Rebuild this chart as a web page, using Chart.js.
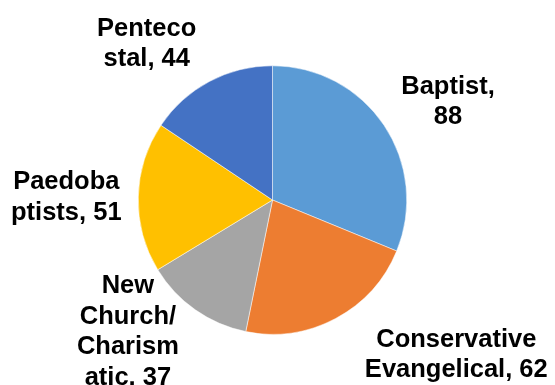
<!DOCTYPE html>
<html>
<head>
<meta charset="utf-8">
<script src="https://cdn.jsdelivr.net/npm/chart.js@4"></script>
<style>
  html, body { margin: 0; padding: 0; background: #fff; }
  #wrap { width: 555px; height: 385px; position: relative; }
</style>
</head>
<body>
<div id="wrap"><canvas id="pie-chart"></canvas></div>
<script>
var categories = ['Baptist', 'Conservative Evangelical', 'New Church/Charismatic', 'Paedobaptists', 'Pentecostal'];
var counts = [88, 62, 37, 51, 44];
var colors = ['#5B9BD5', '#ED7D31', '#A5A5A5', '#FFC000', '#4472C4'];
// how each label wraps, {v} is swapped for the count
var labelLines = [
    ['Baptist,', '{v}'],
    ['Conservative', 'Evangelical, {v}'],
    ['New', 'Church/', 'Charism', 'atic, {v}'],
    ['Paedoba', 'ptists, {v}'],
    ['Penteco', 'stal, {v}']
];
// nudges away from the default spot outside each slice
var labelNudge = [[10, 12], [90, -22], [-30, -32], [-7, 1], [-32, 19]];

var labelFont = 'bold 25.5px "Liberation Sans", Arial, sans-serif';
var lineHeight = 30.5;
var labelGap = 65;

const outsideLabels = {
    id: 'outsideLabels',
    afterDatasetsDraw(chart) {
        const ctx = chart.ctx;
        const arcs = chart.getDatasetMeta(0).data;
        ctx.save();
        ctx.font = labelFont;
        ctx.fillStyle = '#000';
        ctx.textAlign = 'center';
        ctx.textBaseline = 'alphabetic';
        arcs.forEach((arc, i) => {
            const mid = (arc.startAngle + arc.endAngle) / 2;
            const dist = arc.outerRadius + labelGap;
            const cx = arc.x + Math.cos(mid) * dist + labelNudge[i][0];
            const cy = arc.y + Math.sin(mid) * dist + labelNudge[i][1];
            const lines = labelLines[i].map(l => l.replace('{v}', counts[i]));
            lines.forEach((line, j) => {
                const y = cy + 8 + (j - (lines.length - 1) / 2) * lineHeight;
                ctx.fillText(line, cx, y);
            });
        });
        ctx.restore();
    }
};

var pieChart = new Chart(document.getElementById('pie-chart'), {
    type: 'pie',
    data: {
        labels: categories,
        datasets: [{
            data: counts,
            backgroundColor: colors,
            borderColor: '#ffffff',
            borderWidth: 0.5
        }]
    },
    options: {
        responsive: true,
        maintainAspectRatio: false,
        animation: false,
        layout: {
            padding: { left: 138, right: 148, top: 65.5, bottom: 50.5 }
        },
        plugins: {
            legend: { display: false },
            tooltip: { enabled: false }
        }
    },
    plugins: [outsideLabels]
});
</script>
</body>
</html>
